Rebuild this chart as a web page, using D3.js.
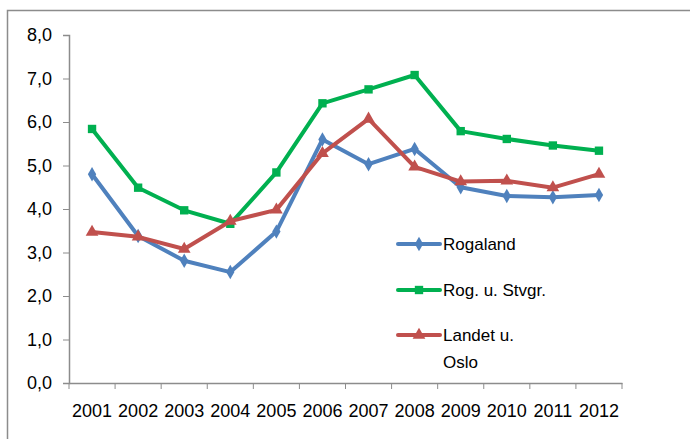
<!DOCTYPE html>
<html>
<head>
<meta charset="utf-8">
<script src="https://cdn.jsdelivr.net/npm/d3@7"></script>
<style>
  body { margin: 0; background: #fff; }
  text { font-family: "Liberation Sans", Arial, sans-serif; fill: #000; }
</style>
</head>
<body>
<div id="chart"></div>
<script>
var years = ["2001","2002","2003","2004","2005","2006","2007","2008","2009","2010","2011","2012"];
var rogaland = [4.80, 3.38, 2.81, 2.55, 3.48, 5.60, 5.03, 5.38, 4.50, 4.30, 4.27, 4.32];
var rogStvgr = [5.84, 4.49, 3.97, 3.66, 4.84, 6.43, 6.75, 7.08, 5.79, 5.61, 5.46, 5.34];
var landet   = [3.47, 3.36, 3.08, 3.72, 3.98, 5.28, 6.07, 4.97, 4.63, 4.65, 4.49, 4.80];
var yTicks = [0, 1, 2, 3, 4, 5, 6, 7, 8];

var series = [
  {name: "Rogaland", values: rogaland, color: "#4F81BD", symbol: d3.symbolDiamond, size: 60},
  {name: "Rog. u. Stvgr.", values: rogStvgr, color: "#00B050", symbol: d3.symbolSquare, size: 70},
  {name: ["Landet u.", "Oslo"], values: landet, color: "#C0504D", symbol: d3.symbolTriangle, size: 70}
];

var width = 690, height = 439;
var plotLeft = 69, plotRight = 622, plotTop = 35, plotBottom = 383;

var svg = d3.select("#chart").append("svg")
    .attr("width", width)
    .attr("height", height);

// outer frame
svg.append("path")
    .attr("d", "M7.5," + height + "V10.5H" + width)
    .attr("fill", "none")
    .attr("stroke", "#8c8c8c")
    .attr("stroke-width", 1.5);

var x = d3.scaleBand().domain(years).range([plotLeft, plotRight]);
var y = d3.scaleLinear().domain([0, 8]).range([plotBottom, plotTop]);

var yAxis = svg.append("g")
    .attr("transform", "translate(" + plotLeft + ",0)")
    .call(d3.axisLeft(y).tickValues(yTicks).tickSize(6).tickPadding(11)
      .tickFormat(function(d){ return d3.format(".1f")(d).replace(".", ","); }));

var xAxis = svg.append("g")
    .attr("transform", "translate(0," + plotBottom + ")")
    .call(d3.axisBottom(x).tickSize(0).tickPadding(21));

// ticks at category boundaries
xAxis.selectAll(".bound")
    .data(d3.range(years.length + 1))
    .enter().append("line")
      .attr("class", "bound")
      .attr("x1", function(i){ return plotLeft + i * x.step(); })
      .attr("x2", function(i){ return plotLeft + i * x.step(); })
      .attr("y1", 0).attr("y2", 6)
      .attr("stroke", "#8c8c8c");

[yAxis, xAxis].forEach(function(a) {
  a.select(".domain").attr("stroke", "#8c8c8c").attr("stroke-width", 1.5);
  a.selectAll(".tick line").attr("stroke", "#8c8c8c");
  a.selectAll("text").attr("font-size", 18).attr("font-family", "Liberation Sans, Arial, sans-serif");
});

var line = d3.line()
    .x(function(d, i){ return x(years[i]) + x.bandwidth() / 2; })
    .y(function(d){ return y(d); });

series.forEach(function(s) {
  svg.append("path")
      .datum(s.values)
      .attr("fill", "none")
      .attr("stroke", s.color)
      .attr("stroke-width", 4)
      .attr("stroke-linejoin", "round")
      .attr("d", line);

  svg.append("g").selectAll("path")
      .data(s.values)
      .enter().append("path")
        .attr("transform", function(d, i){ return "translate(" + (x(years[i]) + x.bandwidth() / 2) + "," + y(d) + ")"; })
        .attr("d", d3.symbol().type(s.symbol).size(s.size))
        .attr("fill", s.color);
});

// legend
var legend = svg.append("g");
var legendY = [244, 290, 335];
series.forEach(function(s, i) {
  var g = legend.append("g").attr("transform", "translate(398," + legendY[i] + ")");
  g.append("line").attr("x1", 0).attr("x2", 42)
    .attr("stroke", s.color).attr("stroke-width", 4).attr("stroke-linecap", "round");
  g.append("path").attr("transform", "translate(21,0)")
    .attr("d", d3.symbol().type(s.symbol).size(s.size)).attr("fill", s.color);
  var names = [].concat(s.name);
  names.forEach(function(n, j) {
    g.append("text").attr("x", 45).attr("y", j * 27).attr("dy", "0.35em")
      .attr("font-size", 17).text(n);
  });
});
</script>
</body>
</html>
